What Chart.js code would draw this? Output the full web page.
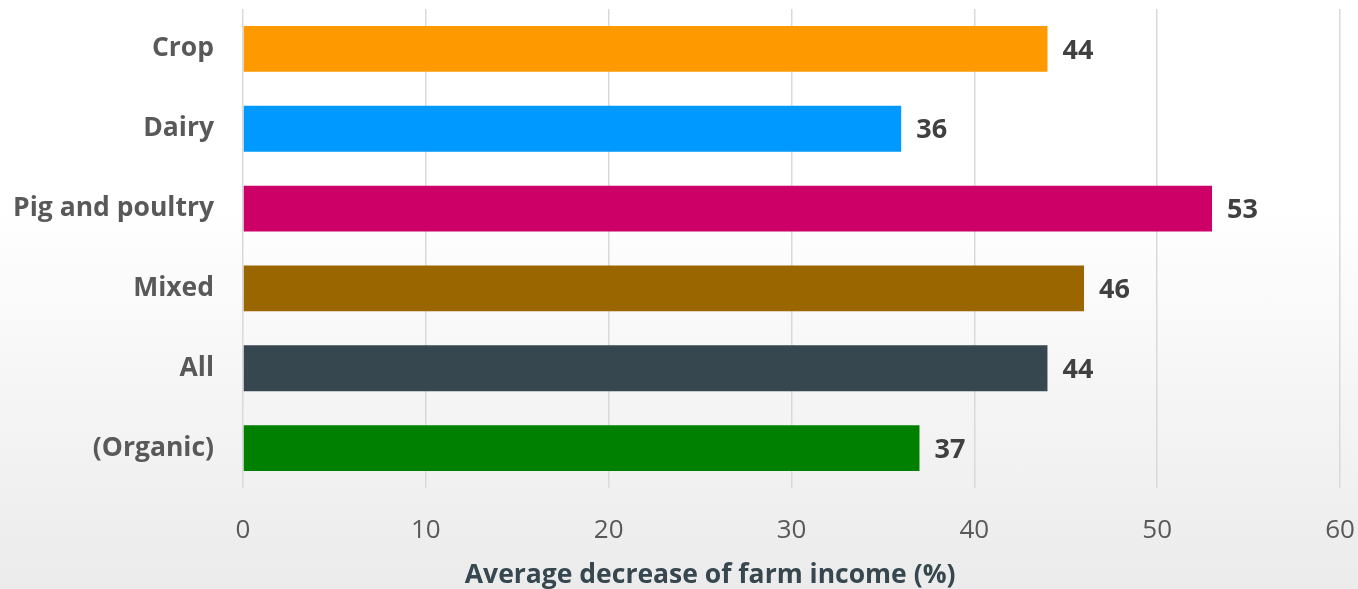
<!DOCTYPE html>
<html>
<head>
<meta charset="utf-8">
<script src="https://cdn.jsdelivr.net/npm/chart.js@4"></script>
<style>
  html, body { margin: 0; padding: 0; }
  body { background: linear-gradient(#ffffff 0%, #ffffff 35%, #ebebeb 100%); }
  .wrap { width: 1358px; height: 589px; position: relative; }
</style>
</head>
<body>
<div class="wrap"><canvas id="chart"></canvas></div>
<script>
const categories = ["Crop", "Dairy", "Pig and poultry", "Mixed", "All", "(Organic)"];
const incomeDecrease = [44, 36, 53, 46, 44, 37];
const barColors = ["#ff9900", "#0099ff", "#cc0066", "#996600", "#37474f", "#008000"];
const xTicks = [0, 10, 20, 30, 40, 50, 60];
const axisTitle = "Average decrease of farm income (%)";

const FONT = "'Open Sans', Lato, sans-serif";

// value labels at the end of each bar + the x axis title (sits left of centre in the original)
const valueLabels = {
  id: "valueLabels",
  afterDatasetsDraw(chart) {
    const ctx = chart.ctx;
    const meta = chart.getDatasetMeta(0);
    ctx.save();
    ctx.font = "bold 27px " + FONT;
    ctx.fillStyle = "#404040";
    ctx.textAlign = "left";
    ctx.textBaseline = "middle";
    meta.data.forEach((bar, i) => {
      ctx.fillText(incomeDecrease[i], bar.x + 15, bar.y + 2);
    });

    const xs = chart.scales.x;
    ctx.font = "bold 26.5px " + FONT;
    ctx.fillStyle = "#37474f";
    ctx.textAlign = "center";
    ctx.fillText(axisTitle, xs.getPixelForValue(25.55), xs.bottom - 14);
    ctx.restore();
  }
};

new Chart(document.getElementById("chart"), {
  type: "bar",
  data: {
    labels: categories,
    datasets: [{
      data: incomeDecrease,
      backgroundColor: barColors,
      borderWidth: 0,
      categoryPercentage: 1,
      barPercentage: 0.575
    }]
  },
  options: {
    indexAxis: "y",
    responsive: true,
    maintainAspectRatio: false,
    animation: false,
    layout: { padding: { top: 9, right: 18, left: 0, bottom: 0 } },
    plugins: { legend: { display: false }, tooltip: { enabled: false } },
    scales: {
      x: {
        min: 0,
        max: 60,
        afterBuildTicks: (scale) => { scale.ticks = xTicks.map(v => ({ value: v })); },
        grid: { color: "#d9d9d9", lineWidth: 1.5, drawTicks: false },
        border: { display: false },
        ticks: { color: "#595959", font: { family: FONT, size: 26 }, padding: 27 },
        afterFit: (scale) => {
          scale.height = 101;
          scale.paddingLeft = 0;
          scale.paddingRight = 0;
        }
      },
      y: {
        grid: { display: false, drawTicks: false },
        border: { display: false },
        ticks: { color: "#595959", font: { family: FONT, size: 26.5, weight: "bold" }, padding: 29 },
        afterFit: (scale) => {
          scale.width = 243;
          scale.paddingTop = 0;
          scale.paddingBottom = 0;
        }
      }
    }
  },
  plugins: [valueLabels]
});
</script>
</body>
</html>
